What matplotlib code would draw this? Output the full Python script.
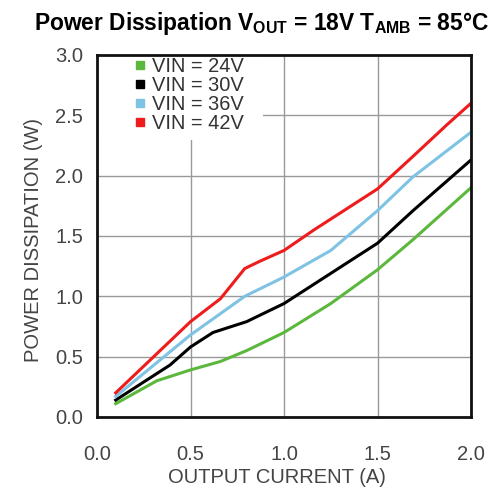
import matplotlib
matplotlib.use('Agg')
import matplotlib.pyplot as plt
from matplotlib.lines import Line2D
from matplotlib.patches import Rectangle

plt.rcParams['font.family'] = ['Liberation Sans', 'DejaVu Sans']
plt.rcParams['mathtext.fontset'] = 'custom'
plt.rcParams['mathtext.rm'] = 'Liberation Sans:bold'
plt.rcParams['mathtext.bf'] = 'Liberation Sans:bold'
plt.rcParams['mathtext.it'] = 'Liberation Sans:bold'

# data
labels = ['VIN = 24V', 'VIN = 30V', 'VIN = 36V', 'VIN = 42V']
colors = ['#5cb83c', '#000000', '#7ec3e3', '#ee1c1c']

x24 = [0.10, 0.32, 0.50, 0.66, 0.80, 1.00, 1.25, 1.50, 1.69, 2.00]
y24 = [0.11, 0.30, 0.39, 0.46, 0.55, 0.70, 0.94, 1.22, 1.47, 1.90]
x30 = [0.10, 0.39, 0.50, 0.62, 0.80, 1.00, 1.19, 1.50, 1.69, 2.00]
y30 = [0.14, 0.43, 0.58, 0.70, 0.79, 0.94, 1.13, 1.44, 1.71, 2.13]
x36 = [0.10, 0.50, 0.79, 1.00, 1.25, 1.50, 1.69, 2.00]
y36 = [0.17, 0.68, 1.00, 1.16, 1.38, 1.71, 1.99, 2.36]
x42 = [0.10, 0.50, 0.66, 0.79, 0.87, 1.00, 1.16, 1.34, 1.50, 1.69, 1.87, 2.00]
y42 = [0.20, 0.79, 0.98, 1.23, 1.29, 1.38, 1.55, 1.73, 1.89, 2.16, 2.42, 2.60]
series = [(x24, y24), (x30, y30), (x36, y36), (x42, y42)]

fig = plt.figure(figsize=(4.99, 4.93), dpi=100)
ax = fig.add_axes([0.1944, 0.1542, 0.7495, 0.7343])

for (xs, ys), c in zip(series, colors):
    ax.plot(xs, ys, color=c, lw=2.2, solid_joinstyle='round', zorder=3)

ax.set_xlim(0, 2.0)
ax.set_ylim(0, 3.0)
ax.set_xticks([0, 0.5, 1.0, 1.5, 2.0])
ax.set_yticks([0, 0.5, 1.0, 1.5, 2.0, 2.5, 3.0])
ax.xaxis.set_major_formatter(matplotlib.ticker.FormatStrFormatter('%.1f'))
ax.yaxis.set_major_formatter(matplotlib.ticker.FormatStrFormatter('%.1f'))
ax.tick_params(length=0, labelsize=14.5, labelcolor='#444444')
ax.tick_params(axis='x', pad=20)
ax.tick_params(axis='y', pad=10)
ax.grid(True, color='#999999', lw=1)
ax.set_axisbelow(True)
for s in ax.spines.values():
    s.set_linewidth(2)
    s.set_color('#111111')
    s.set_zorder(4)

xl = ax.set_xlabel('OUTPUT CURRENT (A)', fontsize=14.5, color='#444444')
yl = ax.set_ylabel('POWER DISSIPATION (W)', fontsize=14.5, color='#444444')
ax.xaxis.set_label_coords(0.48, -0.1685)
ax.yaxis.set_label_coords(-0.171, 0.49)
xl.set_va('center')
yl.set_va('center')

# white patch behind the legend hides the grid there
ax.add_patch(Rectangle((0, 0.765), 0.444, 0.235, transform=ax.transAxes,
                       facecolor='white', edgecolor='none', zorder=1))

handles = [Line2D([], [], ls='none', marker='s', ms=6, color=c) for c in colors]
leg = ax.legend(handles, labels, loc='upper left', bbox_to_anchor=(0.099, 0.995),
                fontsize=14.4, labelcolor='#333333', frameon=False,
                handlelength=0.6, handletextpad=0.3, labelspacing=0.0,
                borderpad=0, borderaxespad=0)
leg.set_zorder(5)

fig.text(0.525, 0.953, r'Power Dissipation V$_\mathrm{OUT}$ = 18V T$_\mathrm{AMB}$ = 85°C',
         ha='center', va='center', fontsize=16.4, fontweight='bold')

fig.savefig('out.png', dpi=100)
